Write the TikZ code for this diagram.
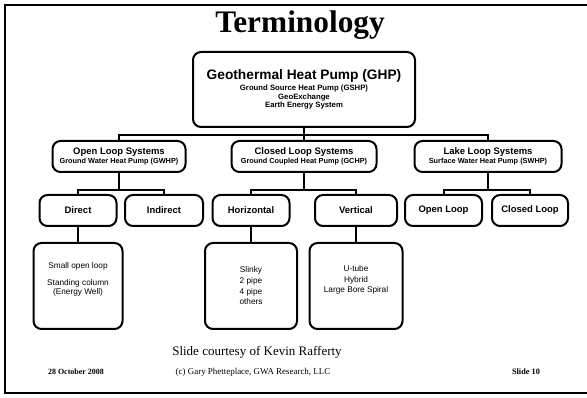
\documentclass[tikz,border=0pt]{standalone}
\usepackage{fontspec}
\setmainfont{Liberation Serif}
\setsansfont{Liberation Sans}
\usetikzlibrary{positioning}

\tikzset{
  tbox/.style={draw, line width=1.5pt, rounded corners=6pt, align=center, inner sep=1pt,
    font=\sffamily\bfseries\fontsize{7.1}{6.4}\selectfont},
  leafbox/.style={tbox, font=\sffamily\fontsize{6.2}{8}\selectfont},
  wh/.style 2 args={minimum width=#1*0.75pt, minimum height=#2*0.75pt},
  link/.style={line width=1.5pt},
}

\begin{document}
\begin{tikzpicture}[x=0.75pt,y=0.75pt,yscale=-1,xscale=1]
\useasboundingbox (0,0) rectangle (587,398);

%Shape: Frame
\draw [line width=1.5pt] (587,5) -- (5,5) -- (5,393) -- (587,393) ;

% Text Node
\node (title) at (300,25) [font=\rmfamily\bfseries\fontsize{23.5}{26}\selectfont] {Terminology};

%Shape: Rounded Rectangle
\node [tbox, wh={222}{75}, font=\sffamily\bfseries\fontsize{5.8}{6.6}\selectfont] (ghp) at (304,89.5)
  {{\fontsize{10.3}{12}\selectfont Geothermal Heat Pump (GHP)}\\[1.5pt]
   Ground Source Heat Pump (GSHP)\\ GeoExchange\\ Earth Energy System};

%Shape: Rounded Rectangle
\node [tbox, wh={133}{31}] (open) at (119,156.5)
  {Open Loop Systems\\ {\fontsize{5.5}{6}\selectfont Ground Water Heat Pump (GWHP)}};
\node [tbox, wh={145}{31}] (closed) at (304,156.5)
  {Closed Loop Systems\\ {\fontsize{5.5}{6}\selectfont Ground Coupled Heat Pump (GCHP)}};
\node [tbox, wh={147}{31}] (lake) at (488,156.5)
  {Lake Loop Systems\\ {\fontsize{5.5}{6}\selectfont Surface Water Heat Pump (SWHP)}};

%Shape: Rounded Rectangle
\node [tbox, wh={77}{31}] (direct) at (78,210.5) {Direct};
\node [tbox, wh={78}{31}] (indirect) at (164,210.5) {Indirect};
\node [tbox, wh={77}{31}] (horiz) at (251,210.5) {Horizontal};
\node [tbox, wh={82}{31}] (vert) at (356,210.5) {Vertical};
\node [tbox, wh={77}{31}] (openloop) at (443.5,210.5) {Open Loop};
\node [tbox, wh={76}{31}] (closedloop) at (530,210.5) {Closed Loop};

%Shape: Rounded Rectangle
\node [leafbox, wh={89}{86}] (directleaf) at (78,286)
  {Small open loop\\[4.5pt] Standing column\\[-1.5pt] (Energy Well)\\[3pt]};
\node [leafbox, wh={92}{86}] (horizleaf) at (251,286)
  {Slinky\\ 2 pipe\\ 4 pipe\\ others};
\node [leafbox, wh={93}{86}] (vertleaf) at (356,286)
  {U-tube\\ Hybrid\\ Large Bore Spiral\\[2pt]};

%Straight Lines
\coordinate (bus1) at (304,135);
\coordinate (bus2) at (119,190);
\coordinate (bus3) at (304,190);
\coordinate (bus4) at (488,190);
\draw [link] (ghp) -- (closed) ;
\draw [link] (open.north) |- (bus1) -| (lake.north) ;
\draw [link] (open) -- (bus2) ;
\draw [link] (direct.north) |- (bus2) -| (indirect.north) ;
\draw [link] (closed) -- (bus3) ;
\draw [link] (horiz.north) |- (bus3) -| (vert.north) ;
\draw [link] (lake) -- (bus4) ;
\draw [link] (openloop.north) |- (bus4) -| (closedloop.north) ;
\draw [link] (direct) -- (directleaf) ;
\draw [link] (horiz) -- (horizleaf) ;
\draw [link] (vert) -- (vertleaf) ;

% Text Node
\node (courtesy) at (257,352) [font=\rmfamily\fontsize{9.75}{11}\selectfont] {Slide courtesy of Kevin Rafferty};
% Text Node
\node (date) at (76,372) [font=\rmfamily\bfseries\fontsize{6}{8}\selectfont] {28 October 2008};
% Text Node
\node (copy) at (253,372) [font=\rmfamily\fontsize{6.7}{8}\selectfont] {(c) Gary Phetteplace, GWA Research, LLC};
% Text Node
\node (slide) at (526,372) [font=\rmfamily\bfseries\fontsize{6.2}{8}\selectfont] {Slide 10};

\end{tikzpicture}
\end{document}
